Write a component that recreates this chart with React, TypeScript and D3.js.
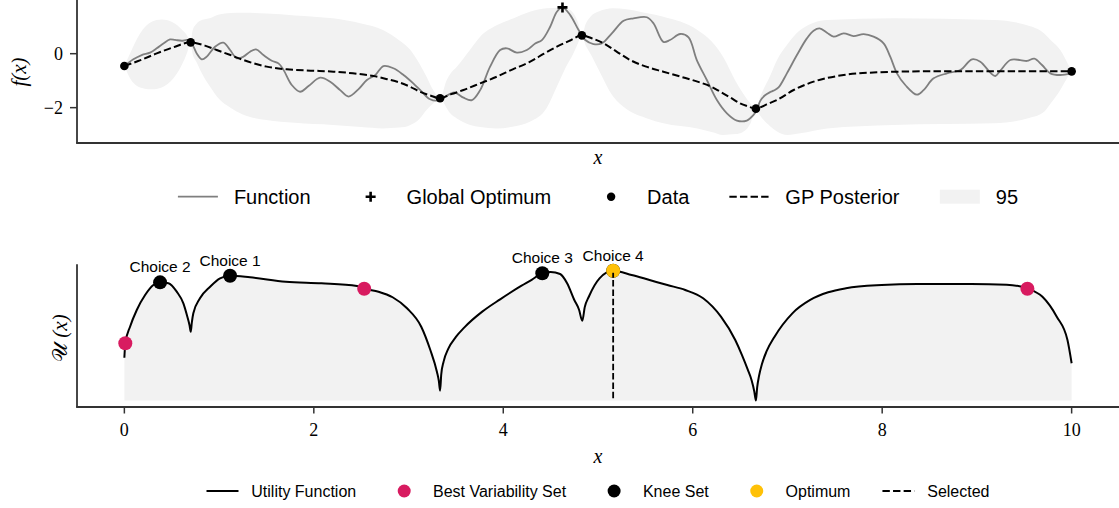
import React, { useEffect } from "react";
import * as d3 from "d3";

const W = 1119;
const H = 508;

// ---------- Top panel data ----------
const dataX = [0, 0.7, 3.333, 4.83, 6.667, 10];
const dataY = [-0.457, 0.42, -1.654, 0.679, -2.037, -0.654];
const globalOptX = 4.625;
const globalOptY = 1.716;

const funcX = [0, 0.095, 0.183, 0.271, 0.342, 0.412, 0.482, 0.535, 0.606, 0.666, 0.712, 0.764, 0.817, 0.87, 0.957, 1.045, 1.116, 1.186, 1.257, 1.327, 1.39, 1.468, 1.556, 1.627, 1.68, 1.767, 1.855, 1.944, 2.067, 2.173, 2.278, 2.366, 2.47, 2.56, 2.65, 2.735, 2.84, 2.947, 3.05, 3.14, 3.228, 3.3, 3.333, 3.439, 3.49, 3.58, 3.669, 3.756, 3.861, 3.967, 4.038, 4.143, 4.249, 4.337, 4.408, 4.495, 4.566, 4.625, 4.707, 4.795, 4.866, 4.952, 5.04, 5.146, 5.27, 5.375, 5.516, 5.587, 5.69, 5.76, 5.868, 5.956, 6.043, 6.149, 6.255, 6.361, 6.466, 6.571, 6.642, 6.677, 6.713, 6.76, 6.82, 6.853, 6.906, 6.994, 7.1, 7.205, 7.276, 7.339, 7.417, 7.487, 7.593, 7.698, 7.804, 7.909, 8.015, 8.085, 8.156, 8.244, 8.367, 8.437, 8.543, 8.684, 8.825, 8.948, 9.036, 9.142, 9.194, 9.247, 9.353, 9.458, 9.529, 9.606, 9.687, 9.775, 9.88, 9.993];
const funcY = [-0.457, -0.21, -0.05, 0.04, 0.2, 0.38, 0.53, 0.51, 0.48, 0.51, 0.38, 0.01, -0.21, -0.11, 0.26, 0.41, 0.136, -0.17, -0.11, 0.074, 0.16, -0.05, -0.26, -0.36, -0.6, -1.16, -1.41, -1.2, -0.89, -1.04, -1.35, -1.59, -1.32, -0.975, -0.79, -0.457, -0.54, -0.79, -1.1, -1.41, -1.69, -1.74, -1.69, -1.49, -1.44, -1.63, -1.72, -1.35, -0.48, 0.136, 0.2, 0.04, 0.136, 0.38, 0.506, 1.0, 1.556, 1.716, 1.43, 0.877, 0.506, 0.358, 0.383, 0.753, 1.22, 1.31, 1.35, 1.12, 0.44, 0.506, 0.73, 0.605, -0.235, -0.975, -1.716, -2.21, -2.48, -2.48, -2.27, -2.09, -1.75, -1.55, -1.42, -1.37, -1.25, -0.73, -0.05, 0.568, 0.852, 0.938, 0.778, 0.63, 0.753, 0.654, 0.728, 0.63, 0.383, -0.11, -0.728, -1.16, -1.52, -1.35, -0.914, -0.728, -0.605, -0.21, -0.296, -0.704, -0.827, -0.63, -0.235, -0.235, -0.27, -0.185, -0.42, -0.728, -0.79, -0.73];

const meanX = [0, 0.17, 0.342, 0.52, 0.697, 0.85, 0.975, 1.12, 1.257, 1.503, 1.714, 2.0, 2.207, 2.45, 2.63, 2.78, 2.91, 3.02, 3.12, 3.23, 3.333, 3.45, 3.58, 3.756, 3.932, 4.1, 4.284, 4.43, 4.566, 4.7, 4.83, 4.95, 5.06, 5.2, 5.34, 5.5, 5.69, 5.87, 6.05, 6.18, 6.29, 6.4, 6.5, 6.58, 6.667, 6.713, 6.78, 6.89, 7.065, 7.276, 7.593, 7.945, 8.473, 9.0, 10];
const meanY = [-0.457, -0.24, 0.01, 0.24, 0.42, 0.3, 0.136, -0.05, -0.235, -0.48, -0.58, -0.63, -0.667, -0.74, -0.827, -0.95, -1.074, -1.23, -1.41, -1.55, -1.654, -1.5, -1.346, -1.1, -0.852, -0.58, -0.296, 0.0, 0.259, 0.48, 0.679, 0.55, 0.383, 0.07, -0.235, -0.47, -0.667, -0.85, -1.037, -1.2, -1.407, -1.63, -1.84, -1.95, -2.037, -1.988, -1.88, -1.716, -1.346, -1.037, -0.79, -0.691, -0.654, -0.654, -0.654];

const bandX = [0, 0.06, 0.166, 0.289, 0.394, 0.518, 0.606, 0.666, 0.697, 0.72, 0.76, 0.8, 0.9, 1.0, 1.12, 1.25, 1.5, 1.8, 2.2, 2.5, 2.73, 2.9, 3.02, 3.12, 3.19, 3.26, 3.333, 3.4, 3.44, 3.51, 3.65, 3.756, 3.93, 4.11, 4.28, 4.46, 4.566, 4.66, 4.74, 4.79, 4.83, 4.87, 4.92, 5.0, 5.16, 5.3, 5.52, 5.69, 6.05, 6.2, 6.32, 6.45, 6.53, 6.61, 6.667, 6.713, 6.82, 6.89, 7.0, 7.135, 7.42, 8.12, 9.18, 9.53, 9.71, 9.78, 9.88, 9.92, 10];
const bandLo = [-0.457, -0.91, -1.25, -1.32, -1.25, -0.91, -0.42, 0.07, 0.42, 0.0, -0.3, -0.6, -1.2, -1.68, -2.0, -2.25, -2.46, -2.56, -2.64, -2.72, -2.77, -2.74, -2.64, -2.4, -2.09, -1.85, -1.654, -2.0, -2.21, -2.4, -2.64, -2.72, -2.77, -2.7, -2.52, -2.0, -1.22, -0.5, 0.01, 0.4, 0.679, 0.3, 0.0, -0.55, -1.59, -2.05, -2.4, -2.58, -2.77, -2.9, -3.01, -2.98, -2.9, -2.58, -2.037, -2.3, -2.7, -2.88, -3.01, -2.95, -2.77, -2.64, -2.58, -2.4, -2.15, -1.84, -1.35, -1.1, -0.654];
const bandHi = [-0.457, 0.01, 0.75, 1.18, 1.27, 1.15, 0.9, 0.65, 0.42, 0.85, 1.1, 1.22, 1.31, 1.45, 1.51, 1.52, 1.49, 1.42, 1.31, 1.12, 0.88, 0.5, 0.136, -0.4, -0.85, -1.35, -1.654, -1.0, -0.75, -0.48, 0.15, 0.63, 1.05, 1.31, 1.55, 1.68, 1.7, 1.68, 1.5, 1.15, 0.679, 1.1, 1.37, 1.55, 1.68, 1.65, 1.5, 1.37, 0.88, 0.45, -0.11, -1.0, -1.47, -1.85, -2.037, -1.59, -0.8, -0.235, 0.35, 0.88, 1.25, 1.31, 1.25, 1.05, 0.75, 0.5, 0.136, -0.1, -0.654];

const fTicks = [0, -2];

// ---------- Bottom panel data ----------
const utilX = [0, 0.01, 0.06, 0.131, 0.219, 0.306, 0.377, 0.465, 0.553, 0.623, 0.665, 0.688, 0.701, 0.712, 0.728, 0.798, 0.905, 1.01, 1.116, 1.327, 1.704, 2.081, 2.456, 2.532, 2.683, 2.832, 2.984, 3.134, 3.23, 3.3, 3.32, 3.333, 3.345, 3.37, 3.42, 3.5, 3.59, 3.778, 3.967, 4.193, 4.3, 4.412, 4.5, 4.6, 4.674, 4.75, 4.8, 4.834, 4.86, 4.903, 5.016, 5.16, 5.355, 5.544, 5.732, 5.921, 6.11, 6.298, 6.449, 6.52, 6.58, 6.62, 6.65, 6.667, 6.68, 6.7, 6.73, 6.78, 6.864, 7.052, 7.24, 7.43, 7.618, 7.995, 8.372, 8.938, 9.314, 9.533, 9.692, 9.843, 9.956, 10];
const utilU = [0.33, 0.441, 0.569, 0.698, 0.813, 0.89, 0.911, 0.904, 0.839, 0.749, 0.646, 0.58, 0.53, 0.6, 0.672, 0.788, 0.877, 0.942, 0.962, 0.95, 0.916, 0.904, 0.883, 0.862, 0.839, 0.796, 0.711, 0.569, 0.389, 0.22, 0.15, 0.076, 0.2, 0.3, 0.4, 0.49, 0.564, 0.685, 0.78, 0.885, 0.93, 0.981, 0.99, 0.975, 0.904, 0.775, 0.7, 0.615, 0.72, 0.8, 0.942, 1.0, 0.968, 0.929, 0.89, 0.852, 0.788, 0.646, 0.466, 0.35, 0.24, 0.16, 0.07, 0.0, 0.1, 0.19, 0.28, 0.38, 0.492, 0.672, 0.775, 0.834, 0.865, 0.89, 0.898, 0.898, 0.893, 0.862, 0.8, 0.646, 0.466, 0.287];

const bestVarX = [0.01, 2.532, 9.533];
const bestVarU = [0.441, 0.862, 0.862];
const kneeX = [1.116, 0.377, 4.412, 5.16];
const kneeU = [0.962, 0.911, 0.981, 1.0];
const kneeLabels = ["Choice 1", "Choice 2", "Choice 3", "Choice 4"];
const optimumX = 5.16;
const optimumU = 1.0;
const xTicks = [0, 2, 4, 6, 8, 10];

const topLegend = [
  { kind: "line", label: "Function" },
  { kind: "plus", label: "Global Optimum" },
  { kind: "dot", label: "Data" },
  { kind: "dash", label: "GP Posterior" },
  { kind: "patch", label: "95" },
];
const bottomLegend = [
  { kind: "uline", label: "Utility Function" },
  { kind: "pink", label: "Best Variability Set" },
  { kind: "black", label: "Knee Set" },
  { kind: "yellow", label: "Optimum" },
  { kind: "udash", label: "Selected" },
];

// ---------- styles ----------
const SANS = "'Liberation Sans', Arial, Helvetica, sans-serif";
const SERIF = "'Liberation Serif', 'DejaVu Serif', serif";
const BAND = "#f2f2f2";
const GRAY = "#7f7f7f";
const PINK = "#d81b60";
const YELLOW = "#ffc107";
const SPINE = "#333333";

let ctx: CanvasRenderingContext2D | null = null;
function textW(s: string, size: number) {
  if (!ctx && typeof document !== "undefined") ctx = document.createElement("canvas").getContext("2d");
  if (!ctx) return s.length * size * 0.55;
  ctx.font = `${size}px ${SANS}`;
  return ctx.measureText(s).width;
}

const xS = d3.scaleLinear().domain([-0.5, 10.5]).range([77, 1119]);
const yT = d3.scaleLinear().domain([-3.31, 1.99]).range([143, 0]);
const uS = d3.scaleLinear().domain([-0.05, 1.05]).range([407, 264.3]);

function Legend({ items, size, cy, renderHandle }: any) {
  const hl = 2 * size, pad = 0.8 * size, gap = 2 * size;
  const widths = items.map((it: any) => textW(it.label, size));
  const total = widths.reduce((a: number, b: number) => a + b, 0) + items.length * (hl + pad) + (items.length - 1) * gap;
  let x = 598 - total / 2;
  const out: any[] = [];
  items.forEach((it: any, i: number) => {
    out.push(<g key={"h" + i}>{renderHandle(it.kind, x, hl, cy)}</g>);
    out.push(
      <text key={"t" + i} x={x + hl + pad} y={cy + 0.36 * size} fontFamily={SANS} fontSize={size} fill="#000">
        {it.label}
      </text>
    );
    x += hl + pad + widths[i] + gap;
  });
  return <g>{out}</g>;
}

export default function App() {
  useEffect(() => {
    document.body.style.margin = "0";
  }, []);

  const idxF = d3.range(funcX.length);
  const funcPath = d3.line<number>().x((i) => xS(funcX[i])).y((i) => yT(funcY[i])).curve(d3.curveCatmullRom.alpha(0.5))(idxF) || "";
  const idxM = d3.range(meanX.length);
  const meanPath = d3.line<number>().x((i) => xS(meanX[i])).y((i) => yT(meanY[i])).curve(d3.curveMonotoneX)(idxM) || "";
  const idxB = d3.range(bandX.length);
  const bandPath = d3.area<number>().x((i) => xS(bandX[i])).y0((i) => yT(bandLo[i])).y1((i) => yT(bandHi[i])).curve(d3.curveMonotoneX)(idxB) || "";
  const idxU = d3.range(utilX.length);
  const utilLine = d3.line<number>().x((i) => xS(utilX[i])).y((i) => uS(utilU[i])).curve(d3.curveMonotoneX)(idxU) || "";
  const utilArea = d3.area<number>().x((i) => xS(utilX[i])).y0(uS(0)).y1((i) => uS(utilU[i])).curve(d3.curveMonotoneX)(idxU) || "";

  const topHandle = (kind: string, x: number, hl: number, cy: number) => {
    if (kind === "line") return <line x1={x} x2={x + hl} y1={cy} y2={cy} stroke={GRAY} strokeWidth={1.8} />;
    if (kind === "plus") return <path d={`M${x + hl / 2 - 5},${cy}H${x + hl / 2 + 5}M${x + hl / 2},${cy - 5}V${cy + 5}`} stroke="#000" strokeWidth={2.6} />;
    if (kind === "dot") return <circle cx={x + hl / 2} cy={cy} r={4.2} fill="#000" />;
    if (kind === "dash") return <line x1={x} x2={x + hl} y1={cy} y2={cy} stroke="#000" strokeWidth={2} strokeDasharray="7.4 3.2" />;
    return <rect x={x} y={cy - 7} width={hl} height={14} fill={BAND} />;
  };
  const bottomHandle = (kind: string, x: number, hl: number, cy: number) => {
    if (kind === "uline") return <line x1={x} x2={x + hl} y1={cy} y2={cy} stroke="#000" strokeWidth={2} />;
    if (kind === "pink") return <circle cx={x + hl / 2} cy={cy} r={6.5} fill={PINK} />;
    if (kind === "black") return <circle cx={x + hl / 2} cy={cy} r={6.5} fill="#000" />;
    if (kind === "yellow") return <circle cx={x + hl / 2} cy={cy} r={6.5} fill={YELLOW} />;
    return <line x1={x} x2={x + hl} y1={cy} y2={cy} stroke="#000" strokeWidth={2} strokeDasharray="7.4 3.2" />;
  };

  return (
    <svg width={W} height={H} style={{ position: "absolute", left: 0, top: 0, background: "#fff" }}>
      <rect width={W} height={H} fill="#fff" />
      {/* ---------- Top panel ---------- */}
      <path d={bandPath} fill={BAND} />
      <path d={funcPath} fill="none" stroke={GRAY} strokeWidth={1.8} />
      <path d={meanPath} fill="none" stroke="#000" strokeWidth={2} strokeDasharray="7.4 3.2" />
      {dataX.map((x, i) => (
        <circle key={i} cx={xS(x)} cy={yT(dataY[i])} r={4.3} fill="#000" />
      ))}
      <path
        d={`M${xS(globalOptX) - 5},${yT(globalOptY)}H${xS(globalOptX) + 5}M${xS(globalOptX)},${yT(globalOptY) - 5}V${yT(globalOptY) + 5}`}
        stroke="#000"
        strokeWidth={2.6}
      />
      <line x1={77} x2={77} y1={0} y2={143} stroke={SPINE} strokeWidth={1.8} />
      <line x1={76.1} x2={1119} y1={143} y2={143} stroke={SPINE} strokeWidth={1.8} />
      {fTicks.map((t) => (
        <g key={t}>
          <line x1={70} x2={77} y1={yT(t)} y2={yT(t)} stroke={SPINE} strokeWidth={1.5} />
          <text x={63} y={yT(t) + 6} textAnchor="end" fontFamily={SERIF} fontSize={18} fill="#000">
            {t < 0 ? "\u2212" + Math.abs(t) : String(t)}
          </text>
        </g>
      ))}
      <text transform="translate(19,72) rotate(-90)" textAnchor="middle" dominantBaseline="central" fontFamily={SERIF} fontStyle="italic" fontSize={21} fill="#000">
        f(x)
      </text>
      <text x={598} y={164} textAnchor="middle" fontFamily={SERIF} fontStyle="italic" fontSize={20} fill="#000">
        x
      </text>
      <Legend items={topLegend} size={20} cy={196.7} renderHandle={topHandle} />

      {/* ---------- Bottom panel ---------- */}
      <path d={utilArea} fill={BAND} />
      <path d={utilLine} fill="none" stroke="#000" strokeWidth={2} />
      <line x1={xS(optimumX)} x2={xS(optimumX)} y1={uS(optimumU)} y2={uS(0)} stroke="#000" strokeWidth={1.8} strokeDasharray="6.5 2.8" />
      {bestVarX.map((x, i) => (
        <circle key={"bv" + i} cx={xS(x)} cy={uS(bestVarU[i])} r={7} fill={PINK} />
      ))}
      {kneeX.map((x, i) => (
        <g key={"k" + i}>
          <circle cx={xS(x)} cy={uS(kneeU[i])} r={7} fill="#000" />
          <text x={xS(x)} y={uS(kneeU[i]) - 10} textAnchor="middle" fontFamily={SANS} fontSize={15.5} fill="#000">
            {kneeLabels[i]}
          </text>
        </g>
      ))}
      <circle cx={xS(optimumX)} cy={uS(optimumU)} r={7} fill={YELLOW} />
      <line x1={xS(optimumX)} x2={xS(optimumX)} y1={uS(optimumU) + 2} y2={uS(optimumU) + 7} stroke="#000" strokeWidth={1.8} />
      <line x1={77} x2={77} y1={264.3} y2={407} stroke={SPINE} strokeWidth={1.8} />
      <line x1={76.1} x2={1119} y1={407} y2={407} stroke={SPINE} strokeWidth={1.8} />
      {xTicks.map((t) => (
        <g key={t}>
          <line x1={xS(t)} x2={xS(t)} y1={407} y2={413.5} stroke={SPINE} strokeWidth={1.5} />
          <text x={xS(t)} y={435.5} textAnchor="middle" fontFamily={SERIF} fontSize={18} fill="#000">
            {String(t)}
          </text>
        </g>
      ))}
      <text transform="translate(60,338) rotate(-90)" textAnchor="middle" dominantBaseline="central" fontFamily={SERIF} fontSize={21} fill="#000">
        <tspan>{"\u{1D4B0}"}</tspan>
        <tspan dx={5} fontStyle="italic">(x)</tspan>
      </text>
      <text x={598} y={463} textAnchor="middle" fontFamily={SERIF} fontStyle="italic" fontSize={20} fill="#000">
        x
      </text>
      <Legend items={bottomLegend} size={16} cy={491} renderHandle={bottomHandle} />
    </svg>
  );
}
